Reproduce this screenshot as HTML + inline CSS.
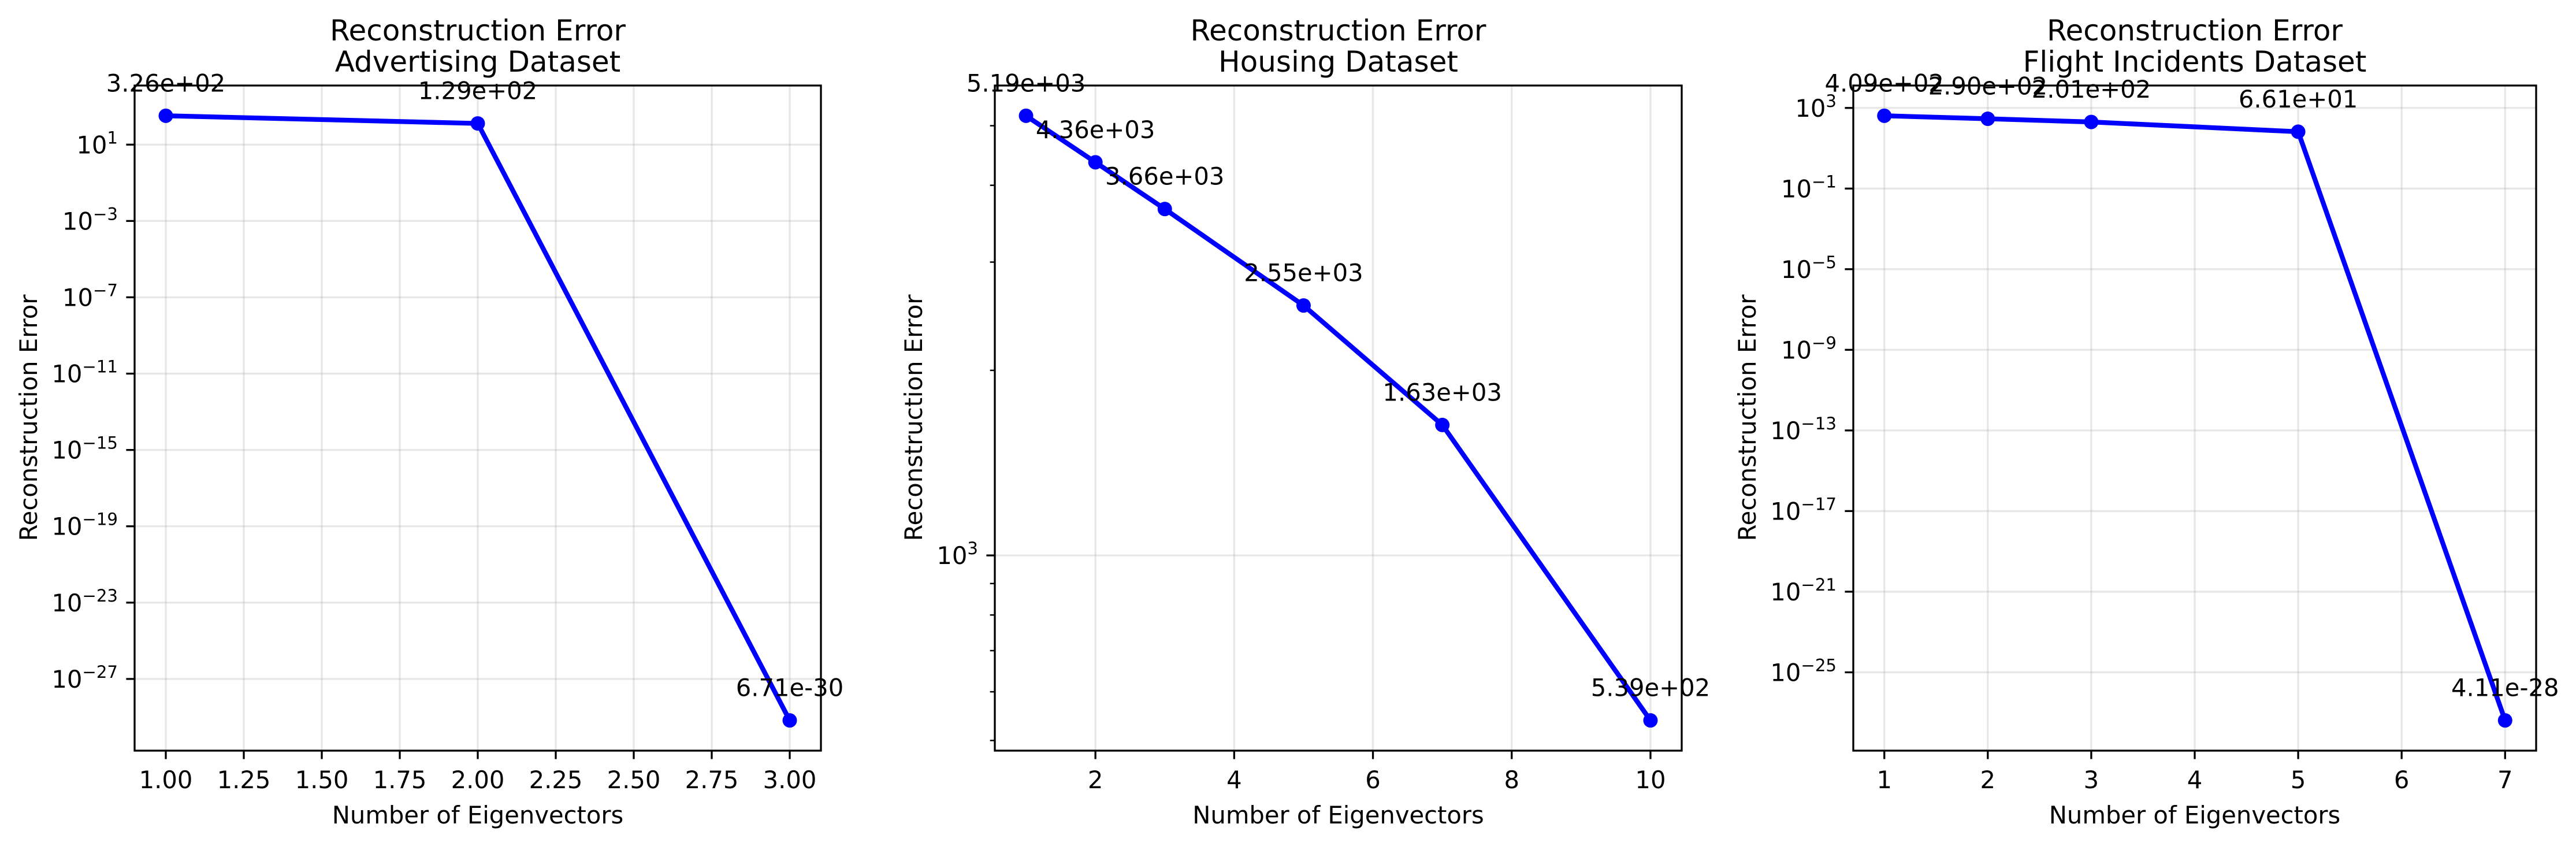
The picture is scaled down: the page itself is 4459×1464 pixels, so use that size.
<!DOCTYPE html>
<html><head><meta charset="utf-8"><style>
html,body{margin:0;padding:0;background:#fff;}
svg text{font-family:"DejaVu Sans","Liberation Sans",sans-serif;fill:#000;}
</style></head><body>
<svg id="fig" width="4459" height="1459" viewBox="0 0 4459 1459" xmlns="http://www.w3.org/2000/svg"></svg>
<script>
// Panel 1: Advertising
const advX = [1, 2, 3];
const advY = [326, 129, 6.71e-30];
const advLabels = ["3.26e+02", "1.29e+02", "6.71e-30"];
const advXTicks = [1.00, 1.25, 1.50, 1.75, 2.00, 2.25, 2.50, 2.75, 3.00];
const advXTickLabels = ["1.00","1.25","1.50","1.75","2.00","2.25","2.50","2.75","3.00"];
const advYTicksExp = [1, -3, -7, -11, -15, -19, -23, -27];
// Panel 2: Housing
const houX = [1, 2, 3, 5, 7, 10];
const houY = [5190, 4360, 3660, 2550, 1630, 539];
const houLabels = ["5.19e+03","4.36e+03","3.66e+03","2.55e+03","1.63e+03","5.39e+02"];
const houXTicks = [2, 4, 6, 8, 10];
const houXTickLabels = ["2","4","6","8","10"];
const houYTicksExp = [3];
// Panel 3: Flight incidents
const fliX = [1, 2, 3, 5, 7];
const fliY = [409, 290, 201, 66.1, 4.11e-28];
const fliLabels = ["4.09e+02","2.90e+02","2.01e+02","6.61e+01","4.11e-28"];
const fliXTicks = [1, 2, 3, 4, 5, 6, 7];
const fliXTickLabels = ["1","2","3","4","5","6","7"];
const fliYTicksExp = [3, -1, -5, -9, -13, -17, -21, -25];

const NS = "http://www.w3.org/2000/svg";
const svg = document.getElementById('fig');
function mk(tag, attrs, parent) {
  const e = document.createElementNS(NS, tag);
  for (const k in attrs) e.setAttribute(k, attrs[k]);
  (parent || svg).appendChild(e);
  return e;
}
const TOP = 148, BOT = 1299, FS = 41.7;

function panel(key, title2, L, R, xs, ys, labels, xt, xtl, yexp, minor) {
  const g = mk('g', {});
  
  
  const xmin = Math.min(...xs), xmax = Math.max(...xs), xpad = (xmax - xmin) * 0.05;
  const lys = ys.map(v => Math.log10(v));
  const lmin = Math.min(...lys), lmax = Math.max(...lys), lpad = (lmax - lmin) * 0.05;
  const x0 = xmin - xpad, x1 = xmax + xpad, l0 = lmin - lpad, l1 = lmax + lpad;
  const X = v => L + (v - x0) / (x1 - x0) * (R - L);
  const Y = v => BOT - (Math.log10(v) - l0) / (l1 - l0) * (BOT - TOP);
  const YL = l => BOT - (l - l0) / (l1 - l0) * (BOT - TOP);
  // grid
  xt.forEach(t => {
    const ln = mk('line', {x1: X(t), x2: X(t), y1: TOP, y2: BOT, stroke: '#b0b0b0', 'stroke-opacity': 0.3, 'stroke-width': 3.3}, g);
    
    
  });
  yexp.forEach(e => {
    const ln = mk('line', {x1: L, x2: R, y1: YL(e), y2: YL(e), stroke: '#b0b0b0', 'stroke-opacity': 0.3, 'stroke-width': 3.3}, g);
    
    
  });
  // x ticks
  xt.forEach((t, i) => {
    mk('line', {x1: X(t), x2: X(t), y1: BOT, y2: BOT + 14.6, stroke: '#000', 'stroke-width': 3.3}, g);
    const tx = mk('text', {x: X(t), y: BOT + 65, 'font-size': FS, 'text-anchor': 'middle'}, g);
    tx.textContent = xtl[i];
    
    
  });
  // y ticks
  yexp.forEach(e => {
    const y = YL(e);
    mk('line', {x1: L - 14.6, x2: L, y1: y, y2: y, stroke: '#000', 'stroke-width': 3.3}, g);
    const tx = mk('text', {x: L - 29, y: y + 15, 'font-size': FS, 'text-anchor': 'end'}, g);
    
    
    const a = mk('tspan', {}, tx); a.textContent = '10';
    const b = mk('tspan', {'font-size': FS * 0.7, dy: -17}, tx);
    b.textContent = e < 0 ? '\u2212' + (-e) : String(e);
  });
  if (minor) {
    for (let d = Math.floor(l0); d <= Math.ceil(l1); d++) {
      for (let m = 2; m <= 9; m++) {
        const l = d + Math.log10(m);
        if (l < l0 || l > l1) continue;
        mk('line', {x1: L - 8.3, x2: L, y1: YL(l), y2: YL(l), stroke: '#000', 'stroke-width': 2.5}, g);
      }
    }
  }
  // line
  const pts = xs.map((x, i) => X(x) + ',' + Y(ys[i])).join(' ');
  const pl = mk('polyline', {points: pts, fill: 'none', stroke: '#0000ff', 'stroke-width': 8.3, 'stroke-linejoin': 'round'}, g);
  
  
  xs.forEach((x, i) => {
    const c = mk('circle', {cx: X(x), cy: Y(ys[i]), r: 12.5, fill: '#0000ff'}, g);
    
    
    const t = mk('text', {x: X(x), y: Y(ys[i]) - 42, 'font-size': FS, 'text-anchor': 'middle'}, g);
    t.textContent = labels[i];
    
    
  });
  // frame
  const fr = mk('rect', {x: L, y: TOP, width: R - L, height: BOT - TOP, fill: 'none', stroke: '#000', 'stroke-width': 3.3}, g);
  
  
  // titles
  const cx = (L + R) / 2;
  const t1 = mk('text', {x: cx, y: 70, 'font-size': 50, 'text-anchor': 'middle'}, g);
  t1.textContent = 'Reconstruction Error';
  
  
  const t2 = mk('text', {x: cx, y: 124, 'font-size': 50, 'text-anchor': 'middle'}, g);
  t2.textContent = title2;
  
  
  const xl = mk('text', {x: cx, y: 1425, 'font-size': FS, 'text-anchor': 'middle'}, g);
  xl.textContent = 'Number of Eigenvectors';
  
  
  return g;
}
function ylab(x, key) {
  const t = mk('text', {x: 0, y: 0, 'font-size': FS, 'text-anchor': 'middle', transform: 'translate(' + x + ',' + 723 + ') rotate(-90)'});
  t.textContent = 'Reconstruction Error';
  
  
}
panel('advertising', 'Advertising Dataset', 233, 1421, advX, advY, advLabels, advXTicks, advXTickLabels, advYTicksExp, false);
panel('housing', 'Housing Dataset', 1722, 2911, houX, houY, houLabels, houXTicks, houXTickLabels, houYTicksExp, true);
panel('flight', 'Flight Incidents Dataset', 3208, 4390, fliX, fliY, fliLabels, fliXTicks, fliXTickLabels, fliYTicksExp, false);
ylab(64, 'advertising');
ylab(1596, 'housing');
ylab(3039, 'flight');
</script>
</body></html>
